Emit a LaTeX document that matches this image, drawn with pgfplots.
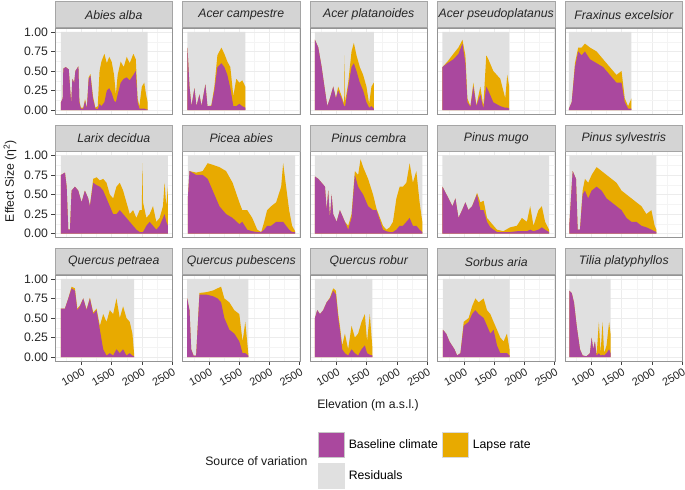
\documentclass[border=0pt]{standalone}
\usepackage{fontspec}
\setmainfont{Liberation Sans}
\usepackage{pgfplots}
\usepackage{pgfplotstable}
\pgfplotsset{compat=1.18}
\usepgfplotslibrary{groupplots}
\definecolor{basec}{RGB}{170,72,158}
\definecolor{lapse}{RGB}{232,170,0}
\definecolor{resid}{RGB}{224,224,224}
\definecolor{stripfill}{RGB}{212,212,212}
\definecolor{stripdraw}{RGB}{165,165,165}
\definecolor{gridc}{RGB}{236,236,236}

% columns: elevation, baseline climate, baseline + lapse rate
\pgfplotstableread{
e b t
661 0.10 0.10
690 0.15 0.15
700 0.53 0.53
740 0.55 0.55
790 0.52 0.52
810 0.30 0.30
830 0.08 0.08
850 0.40 0.40
880 0.35 0.35
900 0.50 0.50
950 0.56 0.56
965 0.10 0.12
990 0.02 0.03
1030 0.02 0.03
1060 0.12 0.14
1090 0.02 0.03
1120 0.40 0.42
1150 0.44 0.46
1190 0.15 0.18
1230 0.02 0.03
1270 0.01 0.05
1300 0.08 0.50
1330 0.05 0.62
1380 0.10 0.72
1420 0.25 0.60
1460 0.28 0.68
1500 0.22 0.62
1540 0.12 0.45
1570 0.10 0.20
1600 0.20 0.45
1650 0.35 0.62
1700 0.40 0.55
1750 0.42 0.68
1800 0.38 0.60
1860 0.45 0.72
1900 0.50 0.65
1930 0.10 0.15
1960 0.02 0.05
2000 0.02 0.30
2040 0.02 0.35
2070 0.01 0.20
2096 0.01 0.10
}\dAbies
\pgfplotstableread{
e b t
644 0.80 0.80
678 0.30 0.30
710 0.05 0.05
760 0.28 0.28
793 0.05 0.05
843 0.20 0.20
876 0.05 0.05
942 0.33 0.33
975 0.05 0.05
1040 0.05 0.06
1090 0.25 0.30
1140 0.55 0.70
1206 0.60 0.80
1255 0.55 0.72
1305 0.45 0.62
1354 0.28 0.55
1404 0.05 0.18
1453 0.05 0.40
1503 0.08 0.35
1552 0.05 0.38
1602 0.03 0.30
}\dAcerCa
\pgfplotstableread{
e b t
644 0.90 0.90
699 0.80 0.80
755 0.55 0.55
810 0.25 0.25
848 0.05 0.05
892 0.15 0.15
947 0.30 0.30
991 0.15 0.15
1029 0.25 0.30
1085 0.15 0.18
1128 0.05 0.08
1136 0.05 0.70
1144 0.05 0.10
1195 0.30 0.35
1250 0.55 0.75
1288 0.60 0.86
1332 0.50 0.70
1387 0.35 0.55
1442 0.25 0.45
1497 0.10 0.30
1541 0.03 0.08
1580 0.05 0.30
1618 0.02 0.35
}\dAcerPl
\pgfplotstableread{
e b t
644 0.55 0.55
727 0.60 0.62
826 0.65 0.72
909 0.72 0.80
975 0.85 0.90
1024 0.60 0.70
1057 0.10 0.15
1107 0.04 0.05
1156 0.30 0.35
1206 0.05 0.06
1272 0.20 0.30
1321 0.02 0.05
1370 0.30 0.70
1404 0.25 0.65
1486 0.10 0.50
1602 0.05 0.40
1684 0.03 0.15
1717 0.03 0.45
1750 0.02 0.30
}\dAcerPs
\pgfplotstableread{
e b t
628 0.02 0.02
673 0.10 0.10
727 0.55 0.60
781 0.75 0.80
838 0.70 0.80
892 0.75 0.85
975 0.65 0.80
1085 0.60 0.75
1194 0.55 0.65
1304 0.45 0.55
1415 0.35 0.45
1498 0.35 0.50
1552 0.10 0.15
1607 0.02 0.05
1662 0.02 0.15
}\dFrax
\pgfplotstableread{
e b t
661 0.75 0.75
727 0.78 0.78
755 0.60 0.60
782 0.05 0.05
810 0.05 0.05
837 0.55 0.55
892 0.60 0.60
947 0.55 0.55
1002 0.40 0.40
1057 0.55 0.55
1112 0.45 0.45
1140 0.35 0.35
1195 0.65 0.70
1250 0.62 0.72
1305 0.60 0.68
1360 0.55 0.70
1415 0.45 0.65
1470 0.35 0.50
1525 0.25 0.45
1580 0.25 0.60
1635 0.30 0.65
1690 0.25 0.55
1745 0.20 0.40
1800 0.15 0.25
1855 0.10 0.30
1910 0.05 0.20
1965 0.02 0.30
2000 0.02 0.30
2009 0.02 0.90
2020 0.02 0.40
2075 0.10 0.20
2130 0.15 0.25
2185 0.10 0.35
2240 0.05 0.15
2295 0.10 0.20
2350 0.20 0.35
2377 0.25 0.65
2405 0.15 0.35
2432 0.10 0.60
}\dLarix
\pgfplotstableread{
e b t
649 0.43 0.43
678 0.80 0.80
788 0.75 0.78
897 0.75 0.80
979 0.70 0.90
1062 0.55 0.88
1173 0.35 0.85
1283 0.25 0.80
1392 0.20 0.65
1503 0.12 0.40
1552 0.15 0.30
1634 0.05 0.30
1717 0.03 0.20
1800 0.02 0.05
1866 0.02 0.02
1915 0.05 0.15
1964 0.10 0.30
2030 0.10 0.35
2113 0.15 0.40
2196 0.15 0.60
2229 0.15 0.90
2278 0.10 0.60
2328 0.05 0.30
2377 0.02 0.10
2427 0.02 0.03
}\dPicea
\pgfplotstableread{
e b t
644 0.73 0.73
699 0.70 0.70
755 0.65 0.65
810 0.60 0.60
838 0.30 0.30
864 0.55 0.55
892 0.20 0.20
920 0.50 0.50
946 0.25 0.25
1003 0.15 0.15
1057 0.30 0.30
1140 0.15 0.15
1194 0.05 0.10
1250 0.20 0.25
1305 0.75 0.80
1359 0.60 0.75
1399 0.55 0.95
1442 0.50 0.85
1524 0.35 0.70
1606 0.30 0.50
1663 0.30 0.32
1771 0.05 0.10
1827 0.03 0.05
1882 0.02 0.08
1936 0.02 0.15
1993 0.05 0.45
2047 0.10 0.60
2101 0.10 0.60
2158 0.15 0.65
2212 0.20 0.90
2266 0.10 0.65
2323 0.10 0.80
2377 0.05 0.40
2422 0.02 0.15
}\dCembra
\pgfplotstableread{
e b t
644 0.60 0.60
711 0.50 0.50
810 0.35 0.35
859 0.45 0.45
909 0.20 0.20
970 0.30 0.30
1024 0.40 0.40
1074 0.30 0.30
1135 0.35 0.35
1189 0.45 0.46
1217 0.50 0.52
1272 0.30 0.40
1326 0.30 0.42
1382 0.15 0.20
1437 0.08 0.15
1491 0.05 0.10
1547 0.02 0.05
1651 0.02 0.03
1766 0.02 0.08
1877 0.03 0.10
1960 0.03 0.20
2042 0.03 0.15
2097 0.05 0.35
2152 0.03 0.10
2234 0.05 0.30
2290 0.08 0.35
2344 0.05 0.15
2410 0.02 0.05
}\dMugo
\pgfplotstableread{
e b t
633 0.10 0.10
689 0.80 0.80
744 0.70 0.70
772 0.05 0.05
810 0.05 0.05
854 0.50 0.55
892 0.55 0.70
946 0.45 0.65
1003 0.55 0.75
1085 0.60 0.85
1168 0.55 0.80
1250 0.45 0.75
1333 0.40 0.70
1415 0.35 0.65
1498 0.30 0.55
1580 0.20 0.50
1663 0.15 0.45
1745 0.15 0.40
1828 0.10 0.35
1910 0.08 0.25
1993 0.05 0.30
2047 0.03 0.10
2075 0.02 0.05
}\dSylv
\pgfplotstableread{
e b t
661 0.62 0.62
727 0.62 0.62
782 0.75 0.75
837 0.88 0.90
892 0.85 0.88
931 0.60 0.62
975 0.65 0.66
1030 0.75 0.75
1085 0.60 0.61
1140 0.75 0.76
1195 0.55 0.57
1250 0.60 0.62
1305 0.35 0.40
1360 0.10 0.55
1415 0.02 0.45
1470 0.05 0.60
1525 0.02 0.55
1580 0.10 0.75
1635 0.05 0.50
1690 0.10 0.65
1745 0.02 0.50
1800 0.05 0.45
1844 0.02 0.30
1871 0.01 0.05
}\dPetr
\pgfplotstableread{
e b t
640 0.75 0.75
678 0.60 0.60
706 0.10 0.10
744 0.02 0.02
788 0.02 0.02
843 0.80 0.82
953 0.80 0.83
1062 0.78 0.85
1144 0.75 0.88
1201 0.70 0.90
1255 0.50 0.75
1338 0.35 0.70
1420 0.30 0.60
1503 0.20 0.55
1557 0.05 0.20
1602 0.05 0.45
1651 0.02 0.05
}\dPube
\pgfplotstableread{
e b t
644 0.50 0.50
682 0.60 0.60
727 0.55 0.55
781 0.60 0.60
838 0.70 0.70
892 0.75 0.76
946 0.85 0.88
991 0.80 0.85
1029 0.50 0.55
1057 0.35 0.40
1095 0.10 0.15
1140 0.05 0.30
1194 0.02 0.10
1250 0.10 0.40
1305 0.05 0.25
1359 0.02 0.30
1415 0.10 0.45
1470 0.15 0.55
1507 0.05 0.20
1552 0.03 0.55
1597 0.02 0.10
}\dRobur
\pgfplotstableread{
e b t
650 0.35 0.35
706 0.30 0.30
760 0.20 0.20
843 0.10 0.10
887 0.02 0.02
942 0.05 0.05
996 0.40 0.45
1078 0.45 0.50
1135 0.55 0.65
1189 0.60 0.75
1244 0.55 0.70
1326 0.50 0.75
1382 0.40 0.60
1437 0.30 0.55
1491 0.35 0.45
1547 0.15 0.35
1602 0.05 0.25
1656 0.05 0.20
1712 0.05 0.30
1755 0.02 0.10
}\dSorbus
\pgfplotstableread{
e b t
633 0.85 0.85
673 0.82 0.82
711 0.70 0.70
755 0.40 0.40
810 0.10 0.10
854 0.02 0.02
920 0.01 0.01
975 0.05 0.05
1003 0.25 0.25
1029 0.10 0.10
1057 0.20 0.20
1085 0.02 0.02
1123 0.05 0.45
1151 0.02 0.05
1184 0.03 0.45
1210 0.02 0.05
1250 0.05 0.15
1293 0.10 0.45
1316 0.05 0.30
}\dTilia

% one facet: residual block, lapse rate on top of baseline climate
\newcommand{\facet}[3]{%
  \addplot[fill=resid,draw=none,forget plot] coordinates {(#2,0) (#2,1) (#3,1) (#3,0)} \closedcycle;
  \addplot[fill=lapse,draw=none,forget plot] table[x=e,y=t] {#1} \closedcycle;
  \addplot[fill=basec,draw=none,forget plot] table[x=e,y=b] {#1} \closedcycle;
}

\newcommand{\fs}{\fontsize{12.3}{14}\selectfont}

\begin{document}
\begin{tikzpicture}
\begin{groupplot}[
  group style={group size=5 by 3, horizontal sep=10bp, vertical sep=37.5bp,
    xticklabels at=edge bottom, yticklabels at=edge left},
  scale only axis, width=117.5bp, height=86bp,
  xmin=562, xmax=2508, ymin=-0.05, ymax=1.05,
  xtick={1000,1500,2000,2500}, minor xtick={750,1250,1750,2250},
  ytick={0,0.25,0.5,0.75,1}, minor ytick={0.125,0.375,0.625,0.875},
  grid=both,
  major grid style={gridc, line width=0.6bp},
  minor grid style={gridc!60!white, line width=0.35bp},
  axis line style={black!42, line width=0.6bp},
  tick align=outside, tick pos=left,
  major tick length=3.5bp, minor tick length=0pt,
  tick style={black!75, line width=0.6bp},
  /pgf/number format/assume math mode=true,
  tick label style={font=\fs, text=black!85},
  yticklabel style={/pgf/number format/fixed, /pgf/number format/fixed zerofill,
    /pgf/number format/precision=2},
  xticklabel style={rotate=30, anchor=north east, inner sep=0pt, text depth=0pt,
    xshift=-1bp, yshift=-2.5bp,
    font=\fontsize{11}{13}\selectfont, /pgf/number format/1000 sep={}},
  every axis title shift=0pt,
  title style={at={(0.5,1)}, anchor=south, fill=stripfill, draw=stripdraw, line width=0.6bp,
    minimum width=117.5bp, minimum height=26bp, inner sep=0pt,
    font=\fs\itshape, text=black!85},
  noxt/.style={xtick style={draw=none}},
  noyt/.style={ytick style={draw=none}},
]
\nextgroupplot[title={Abies alba}, noxt]
\facet{\dAbies}{661}{2096}
\nextgroupplot[title={Acer campestre}, noxt, noyt]
\facet{\dAcerCa}{644}{1602}
\nextgroupplot[title={Acer platanoides}, noxt, noyt]
\facet{\dAcerPl}{644}{1618}
\nextgroupplot[title={Acer pseudoplatanus}, noxt, noyt]
\facet{\dAcerPs}{644}{1750}
\nextgroupplot[title={Fraxinus excelsior}, noxt, noyt]
\facet{\dFrax}{628}{1662}

\nextgroupplot[title={Larix decidua}, noxt]
\facet{\dLarix}{661}{2432}
\nextgroupplot[title={Picea abies}, noxt, noyt]
\facet{\dPicea}{649}{2427}
\nextgroupplot[title={Pinus cembra}, noxt, noyt]
\facet{\dCembra}{644}{2422}
\nextgroupplot[title={Pinus mugo}, noxt, noyt]
\facet{\dMugo}{644}{2410}
\nextgroupplot[title={Pinus sylvestris}, noxt, noyt]
\facet{\dSylv}{633}{2075}

\nextgroupplot[title={Quercus petraea}]
\facet{\dPetr}{661}{1871}
\nextgroupplot[title={Quercus pubescens}, noyt]
\facet{\dPube}{640}{1651}
\nextgroupplot[title={Quercus robur}, noyt,
  legend columns=2,
  legend image code/.code={\draw[#1] (0bp,-12.5bp) rectangle (26bp,12.5bp);},
  legend cell align=left,
  legend style={draw=none, fill=none, at={(0.068,-0.826)}, anchor=north west,
    inner sep=0pt, outer sep=0pt, column sep=4bp, row sep=5bp, font=\fs,
    nodes={inner sep=0pt}}]
\facet{\dRobur}{644}{1597}
\addlegendimage{fill=basec, draw=black!22, line width=0.8bp}
\addlegendentry{Baseline climate}
\addlegendimage{fill=lapse, draw=black!15, line width=0.8bp}
\addlegendentry{Lapse rate}
\addlegendimage{fill=resid, draw=black!12, line width=0.8bp}
\addlegendentry{Residuals}
\nextgroupplot[title={Sorbus aria}, noyt]
\facet{\dSorbus}{650}{1755}
\nextgroupplot[title={Tilia platyphyllos}, noyt]
\facet{\dTilia}{633}{1316}
\end{groupplot}

\node[rotate=90, font=\fs, text=black!90] at ([shift={(-45bp,-153bp)}]group c1r1.north west) {Effect Size (η\textsuperscript{2})};
\node[font=\fs, text=black!90] at ([shift={(313bp,-377bp)}]group c1r1.north west) {Elevation (m a.s.l.)};
\node[font=\fs, text=black!90, anchor=east] at ([shift={(256bp,-433bp)}]group c1r1.north west) {Source of variation};

\pgfresetboundingbox
\path[use as bounding box] ([shift={(-55bp,28bp)}]group c1r1.north west) rectangle ([shift={(630bp,-462bp)}]group c1r1.north west);
\end{tikzpicture}
\end{document}
